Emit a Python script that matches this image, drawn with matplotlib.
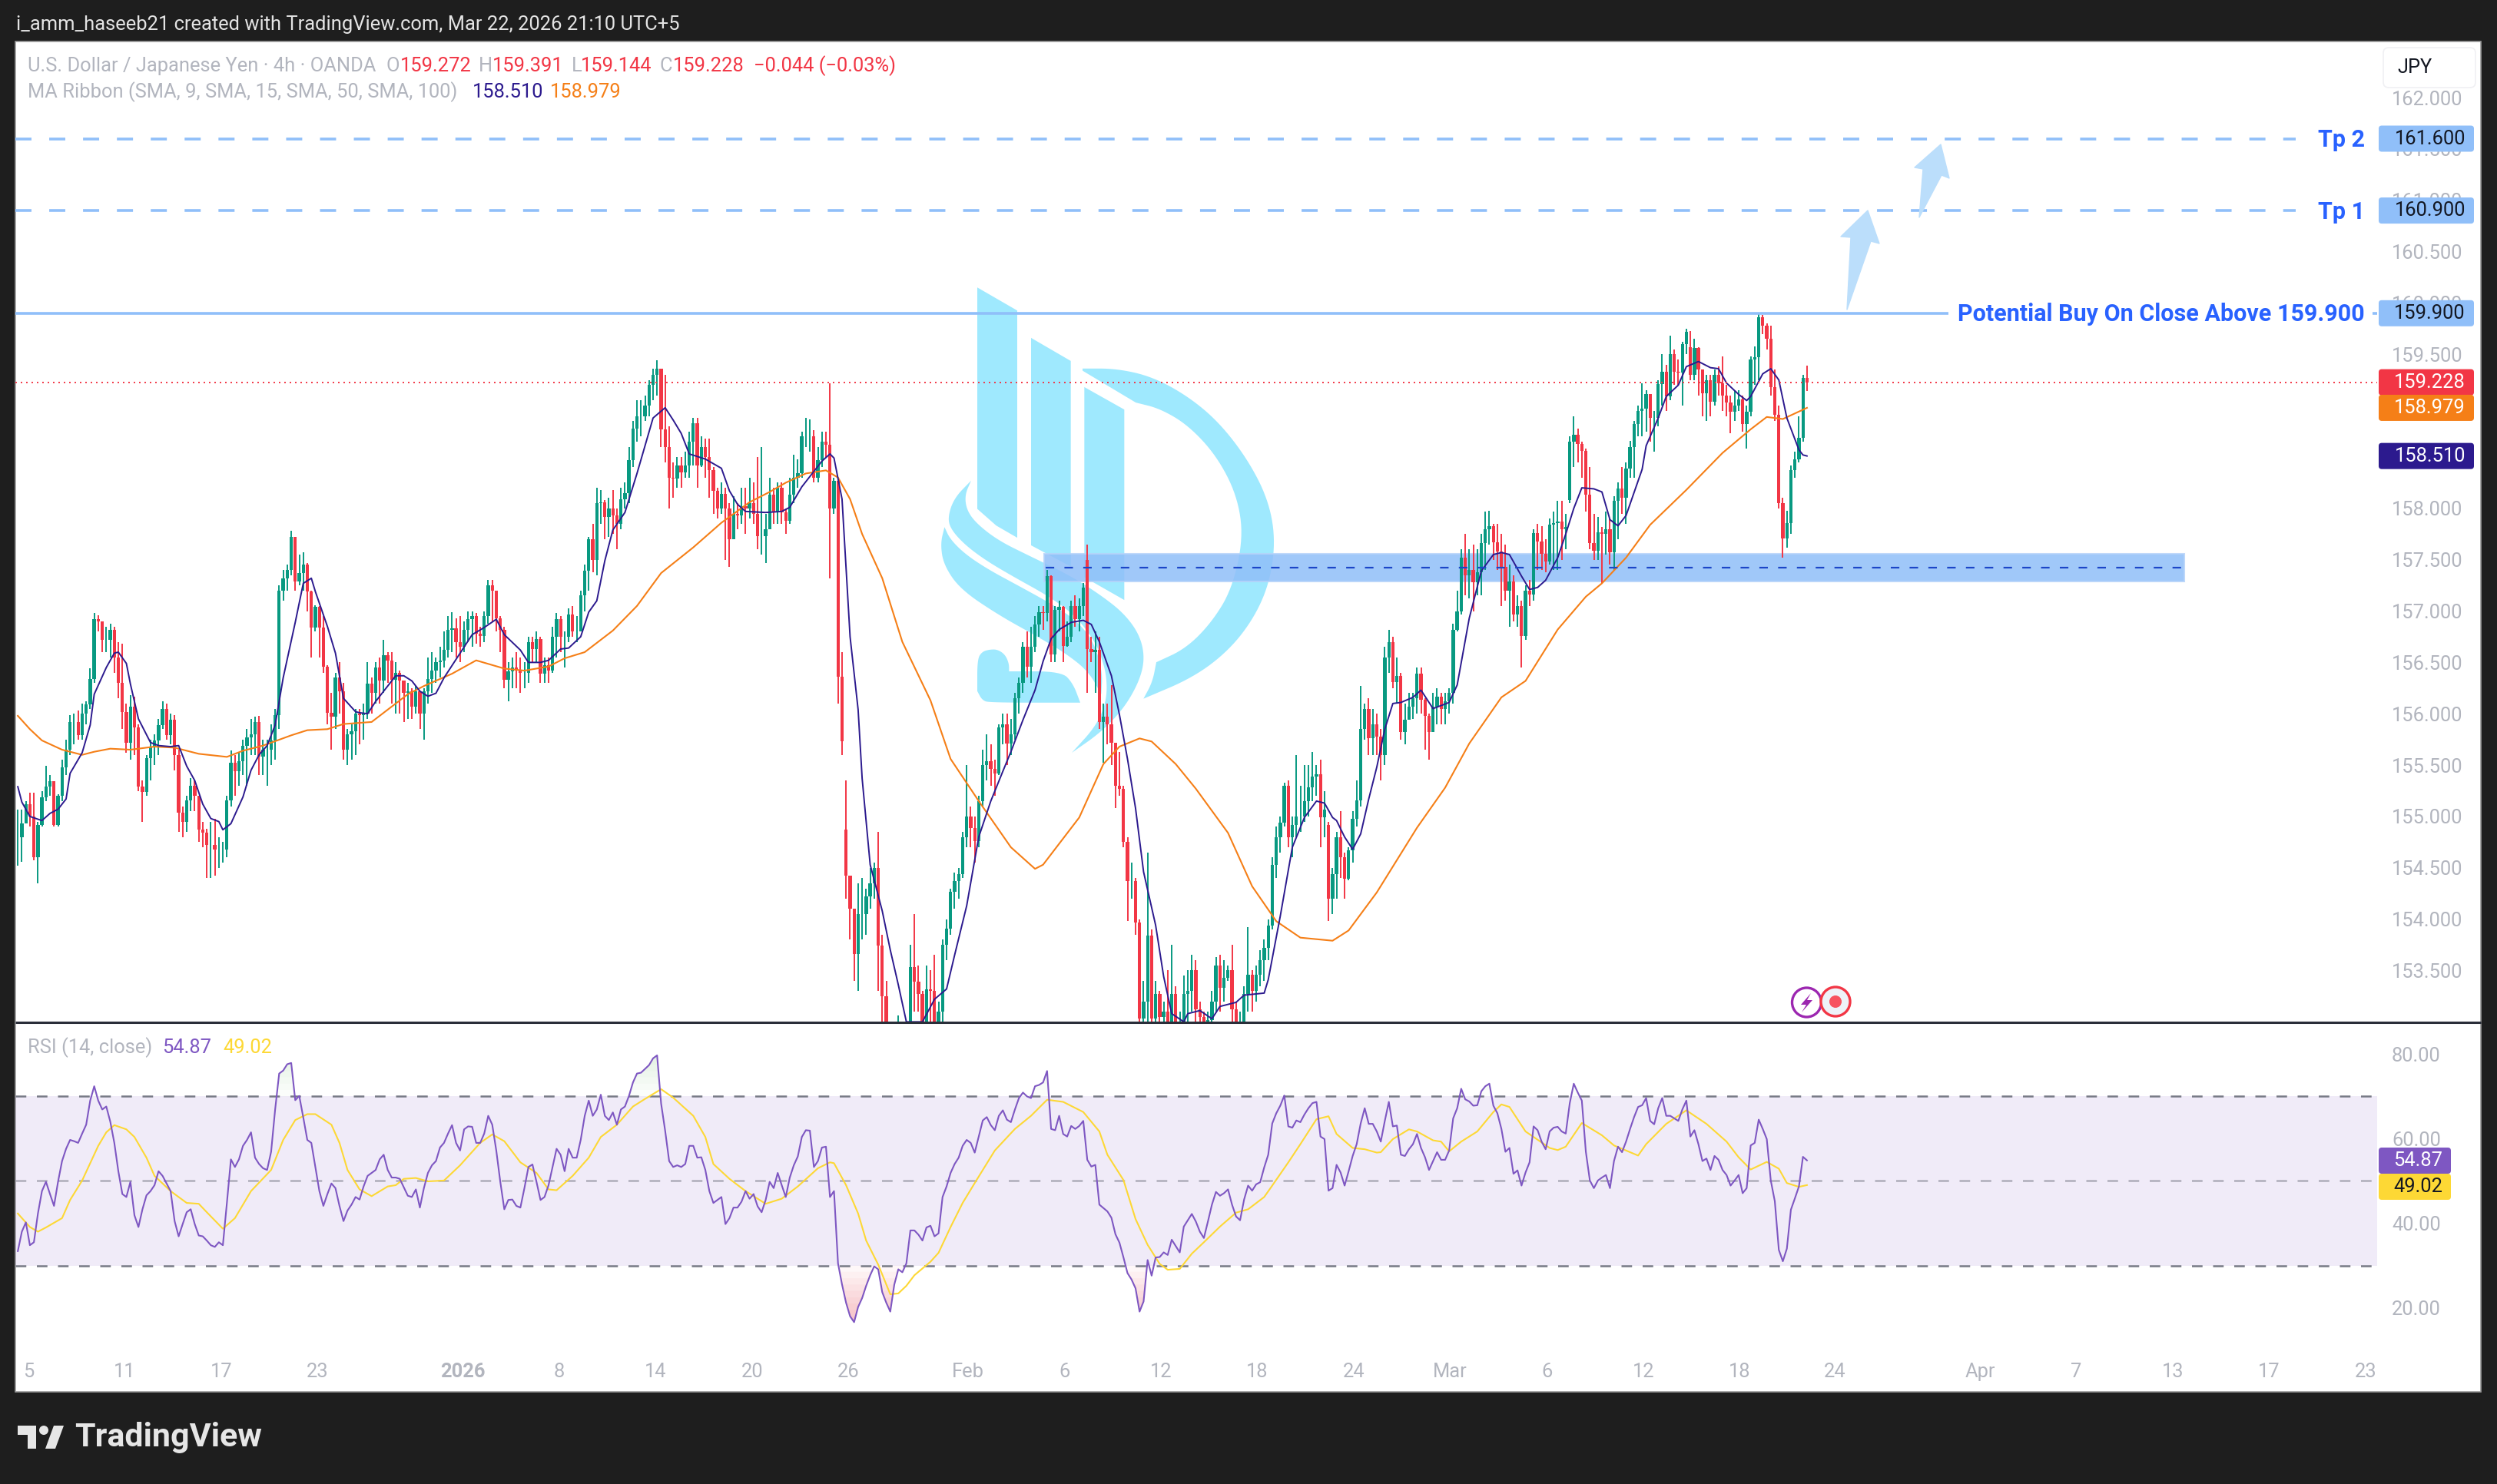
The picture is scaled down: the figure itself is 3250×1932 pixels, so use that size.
"""USD/JPY 4h chart with MA ribbon and RSI pane"""

import matplotlib
matplotlib.use("Agg")
import matplotlib.pyplot as plt
from matplotlib.patches import Circle, FancyBboxPatch, Polygon, Rectangle
import numpy as np

plt.rcParams["font.family"] = ["Roboto", "DejaVu Sans"]

# candle data, one row per ten 4h bars
closes = [
    154.80,154.93,155.12,155.00,154.60,154.92,155.19,155.29,155.34,154.92,
    155.20,155.48,155.65,155.92,155.92,155.79,156.00,156.09,156.34,156.92,
    156.90,156.72,156.72,156.82,156.55,156.30,156.02,155.72,156.07,155.87,
    155.29,155.24,155.57,155.67,155.74,155.89,156.05,155.79,155.94,155.60,
    155.04,154.95,155.16,155.30,155.20,154.87,154.84,154.72,154.72,154.68,
    154.68,154.68,155.16,155.52,155.44,155.54,155.69,155.77,155.80,155.92,
    155.58,155.65,155.65,155.74,155.99,157.20,157.32,157.40,157.72,157.29,
    157.37,157.45,157.19,156.84,157.04,156.84,156.46,156.01,155.97,156.35,
    156.22,155.65,155.80,155.83,156.00,155.99,156.00,156.29,156.20,156.45,
    156.32,156.57,156.52,156.33,156.40,156.32,156.20,156.22,156.07,156.22,
    156.00,156.22,156.34,156.42,156.50,156.52,156.62,156.82,156.83,156.70,
    156.65,156.82,156.92,156.95,156.78,156.76,156.95,157.25,157.20,156.93,
    156.82,156.33,156.41,156.45,156.42,156.40,156.40,156.70,156.63,156.73,
    156.39,156.47,156.42,156.75,156.92,156.75,156.75,156.97,156.80,156.80,
    157.15,157.39,157.70,157.50,158.05,158.06,157.92,158.00,157.93,157.85,
    158.09,158.15,158.47,158.78,158.90,158.90,159.00,159.20,159.30,159.36,
    158.77,158.60,158.30,158.29,158.42,158.35,158.42,158.65,158.83,158.42,
    158.60,158.50,158.37,158.17,158.00,158.14,158.00,157.70,157.95,157.93,
    158.02,158.00,158.05,157.95,157.73,157.73,157.80,158.13,157.96,158.20,
    157.96,157.88,158.13,158.30,158.34,158.70,158.70,158.70,158.30,158.47,
    158.65,158.62,158.00,158.27,156.36,155.73,154.42,154.10,153.66,154.05,
    154.05,154.22,154.35,154.50,153.74,153.25,153.00,152.90,152.85,152.90,
    152.85,152.90,153.53,153.39,153.27,153.00,153.32,153.30,153.00,153.10,
    153.75,153.91,154.27,154.37,154.44,154.80,155.00,154.89,154.76,155.15,
    155.50,155.54,155.46,155.42,155.87,155.90,155.71,155.80,156.15,156.30,
    156.65,156.46,156.65,156.87,156.99,156.98,157.34,156.58,157.01,157.04,
    156.66,156.75,157.05,156.92,157.05,157.23,156.63,156.60,156.62,155.92,
    155.97,155.90,155.72,155.30,155.27,154.75,154.37,154.37,153.97,153.03,
    153.20,153.84,153.03,153.27,153.05,153.10,153.00,153.27,153.00,153.00,
    153.27,153.30,153.50,153.12,153.05,153.00,153.02,153.20,153.55,153.33,
    153.43,153.50,153.12,153.00,153.00,153.27,153.46,153.30,153.46,153.60,
    153.72,153.94,154.53,154.80,154.94,155.30,154.80,154.92,155.00,155.00,
    155.15,155.28,155.39,155.41,154.99,155.07,154.20,154.44,154.80,154.60,
    154.39,154.67,154.98,155.16,155.85,156.05,155.76,155.90,155.78,155.60,
    156.55,156.70,156.31,156.37,155.82,155.94,156.07,156.15,156.39,156.14,
    155.98,155.82,156.07,156.17,156.05,156.12,156.20,156.82,157.00,157.52,
    157.35,157.40,157.28,157.38,157.66,157.80,157.83,157.67,157.58,157.43,
    157.20,157.29,156.97,157.05,156.76,157.20,157.16,157.76,157.68,157.56,
    157.48,157.84,157.86,157.87,157.80,157.82,158.65,158.72,158.63,158.56,
    158.13,157.66,157.59,157.77,157.75,157.80,157.57,158.07,158.19,158.10,
    158.39,158.60,158.82,158.95,158.97,159.11,158.88,158.88,159.21,159.33,
    159.09,159.50,159.33,159.32,159.60,159.72,159.30,159.56,159.35,159.12,
    159.25,159.04,159.30,159.22,159.10,159.03,158.94,159.00,159.06,158.82,
    158.94,159.45,159.47,159.86,159.78,159.65,159.18,158.91,158.05,157.71,
    157.86,158.37,158.48,158.69,159.27,159.228,
]
highs = [
    155.07,155.07,155.15,155.23,155.23,154.95,155.25,155.49,155.40,155.22,
    155.22,155.55,155.75,155.99,156.00,156.03,156.10,156.12,156.44,156.98,
    156.96,156.90,156.85,156.88,156.85,156.70,156.68,156.10,156.18,156.17,
    155.90,155.35,155.60,155.75,155.80,155.95,156.12,156.10,156.00,155.99,
    155.65,155.10,155.20,155.37,155.35,155.20,154.95,154.88,154.95,154.98,
    154.80,154.75,155.20,155.64,155.60,155.62,155.75,155.85,155.95,155.97,
    155.98,155.75,155.75,155.90,156.05,157.25,157.40,157.45,157.78,157.63,
    157.55,157.57,157.47,157.20,157.06,157.05,156.95,156.47,156.20,156.40,
    156.50,156.30,155.85,155.90,156.05,156.05,156.10,156.50,156.35,156.50,
    156.55,156.72,156.60,156.60,156.50,156.42,156.30,156.30,156.25,156.27,
    156.18,156.25,156.55,156.60,156.55,156.65,156.80,156.95,156.99,156.93,
    156.95,156.90,157.00,157.00,156.98,156.85,157.00,157.30,157.30,157.18,
    156.95,156.85,156.50,156.55,156.60,156.55,156.50,156.75,156.75,156.80,
    156.75,156.55,156.55,156.85,156.98,156.95,156.80,157.03,157.05,156.95,
    157.20,157.45,157.72,157.85,158.20,158.18,158.08,158.10,158.18,158.00,
    158.20,158.25,158.60,158.85,159.05,159.05,159.10,159.25,159.36,159.44,
    159.36,159.30,158.80,158.45,158.50,158.50,158.55,158.75,158.88,158.88,
    158.70,158.68,158.68,158.40,158.20,158.25,158.20,158.05,158.12,158.05,
    158.20,158.20,158.30,158.25,158.50,158.60,157.95,158.30,158.20,158.25,
    158.25,158.00,158.30,158.52,158.48,158.75,158.88,158.87,158.76,158.60,
    158.75,158.75,159.22,158.30,158.30,156.60,155.35,154.42,154.00,154.35,
    154.40,154.30,154.50,154.55,154.85,153.85,153.40,152.95,152.90,153.06,
    152.95,152.95,153.75,154.05,153.55,153.30,153.55,153.50,153.65,153.20,
    153.80,154.00,154.30,154.45,154.50,154.85,155.50,155.10,155.00,155.20,
    155.65,155.80,155.70,155.55,155.90,156.00,156.00,155.95,156.20,156.35,
    156.70,156.80,156.85,156.95,157.05,157.05,157.40,157.35,157.05,157.10,
    157.05,156.90,157.10,157.15,157.12,157.27,157.65,156.75,156.80,156.75,
    156.10,156.10,156.28,155.70,155.63,155.30,154.80,154.55,154.40,154.00,
    153.40,154.65,153.90,153.40,153.30,153.20,153.50,153.75,153.35,153.10,
    153.45,153.50,153.65,153.60,153.20,153.10,153.10,153.30,153.63,153.65,
    153.60,153.55,153.75,153.20,153.10,153.35,153.92,153.50,153.55,153.70,
    153.80,154.00,154.60,154.90,155.00,155.33,155.35,155.00,155.60,155.30,
    155.50,155.50,155.63,155.50,155.55,155.25,154.95,154.50,154.85,155.05,
    154.65,154.70,155.05,155.35,156.27,156.10,156.15,156.05,156.00,155.85,
    156.65,156.82,156.75,156.55,156.40,156.10,156.20,156.20,156.45,156.45,
    156.15,156.00,156.20,156.25,156.20,156.20,156.25,156.88,157.20,157.60,
    157.75,157.60,157.65,157.60,157.75,157.97,157.98,157.85,157.85,157.75,
    157.65,157.45,157.35,157.15,157.10,157.25,157.30,157.80,157.85,157.83,
    157.70,157.90,157.97,158.07,158.07,157.95,158.70,158.90,158.78,158.65,
    158.58,158.40,157.95,157.92,157.82,157.97,157.90,158.12,158.25,158.40,
    158.45,158.66,158.85,159.00,159.22,159.15,159.10,158.95,159.25,159.50,
    159.40,159.68,159.55,159.45,159.62,159.75,159.73,159.65,159.57,159.35,
    159.30,159.30,159.35,159.38,159.48,159.20,159.10,159.15,159.15,159.10,
    159.00,159.48,159.58,159.90,159.88,159.80,159.78,159.35,159.00,158.10,
    157.98,158.42,158.55,158.90,159.30,159.391,
]
lows = [
    154.52,154.56,154.95,154.90,154.57,154.35,154.90,155.15,155.20,154.90,
    154.90,155.15,155.40,155.60,155.70,155.75,155.75,155.90,156.05,156.30,
    156.80,156.60,156.60,156.55,156.40,156.15,155.85,155.62,155.55,155.60,
    155.25,154.95,155.20,155.35,155.50,155.60,155.85,155.75,155.70,155.45,
    154.85,154.80,154.85,155.05,155.05,154.75,154.70,154.40,154.40,154.42,
    154.50,154.55,154.60,155.10,155.20,155.30,155.40,155.30,155.60,155.60,
    155.40,155.40,155.30,155.50,155.55,155.85,157.10,157.20,157.35,157.20,
    157.25,157.20,157.00,156.55,156.80,156.55,156.40,155.90,155.65,155.85,
    156.00,155.55,155.50,155.55,155.60,155.70,155.75,155.95,156.00,156.10,
    156.10,156.20,156.30,156.10,156.00,156.00,155.92,155.95,155.95,156.00,
    155.85,155.75,156.10,156.20,156.30,156.35,156.45,156.55,156.60,156.55,
    156.50,156.60,156.70,156.65,156.68,156.65,156.70,156.88,156.90,156.80,
    156.60,156.25,156.12,156.25,156.25,156.20,156.25,156.30,156.50,156.50,
    156.30,156.30,156.30,156.40,156.55,156.60,156.45,156.70,156.75,156.70,
    156.80,157.00,157.20,157.38,157.35,157.85,157.70,157.72,157.75,157.60,
    157.80,158.00,158.05,158.40,158.65,158.70,158.85,158.90,159.05,159.10,
    158.60,158.45,158.00,158.10,158.20,158.20,158.30,158.30,158.42,158.20,
    158.40,158.30,158.10,157.95,157.90,157.95,157.50,157.43,157.72,157.80,
    157.85,157.75,157.90,157.85,157.60,157.55,157.47,157.85,157.85,157.85,
    157.85,157.75,157.85,158.05,158.20,158.30,158.60,158.55,158.25,158.25,
    158.40,158.50,157.32,157.95,156.10,155.60,154.20,153.80,153.40,153.30,
    153.80,153.85,154.10,154.20,153.30,152.90,152.90,152.80,152.80,152.80,
    152.80,152.80,152.90,153.10,153.10,152.90,152.90,153.00,152.90,152.90,
    152.90,153.60,153.85,154.10,154.20,154.40,154.70,154.70,154.55,154.70,
    155.10,155.35,155.30,155.20,155.40,155.70,155.50,155.60,155.75,156.00,
    156.20,156.35,156.30,156.60,156.75,156.82,156.90,156.50,156.50,156.80,
    156.50,156.65,156.70,156.85,156.80,156.95,156.20,156.50,156.20,155.85,
    155.52,155.70,155.50,155.08,155.20,154.70,153.98,154.20,153.85,152.90,
    152.90,152.90,152.90,152.90,152.90,152.90,152.90,152.90,152.90,152.90,
    152.90,153.00,153.10,152.95,152.90,152.90,152.90,152.90,153.10,153.10,
    153.20,153.40,153.00,152.90,152.90,152.90,153.10,153.10,153.20,153.35,
    153.40,153.60,153.90,154.40,154.65,154.90,154.70,154.60,154.80,154.85,
    154.95,155.00,155.15,155.20,154.70,154.80,153.98,154.05,154.20,154.40,
    154.20,154.38,154.55,154.90,155.10,155.75,155.60,155.60,155.60,155.35,
    155.50,156.40,156.25,156.10,155.75,155.70,155.95,155.95,156.00,156.00,
    155.65,155.55,155.85,155.90,155.90,155.90,156.00,156.10,156.80,156.97,
    157.15,157.12,157.00,157.15,157.15,157.40,157.65,157.50,157.40,157.05,
    157.10,156.85,156.90,156.85,156.45,156.72,157.05,157.10,157.40,157.40,
    157.38,157.45,157.40,157.40,157.50,157.60,158.05,158.40,158.45,158.30,
    157.97,157.60,157.50,157.50,157.27,157.55,157.45,157.40,157.70,157.95,
    157.85,158.30,158.30,158.70,158.70,158.75,158.65,158.55,158.80,159.00,
    158.95,159.05,159.20,159.20,159.00,159.50,159.25,159.25,159.10,158.90,
    158.85,158.90,159.00,159.10,158.95,158.90,158.73,158.85,158.95,158.75,
    158.58,158.90,159.20,159.25,159.70,159.55,159.10,158.85,158.00,157.52,
    157.62,157.75,158.30,158.45,158.65,159.144,
]
# bars whose open sits away from the previous close
gap_bars = [206, 266, 326, 386, 416, 445]
gap_opens = [154.87, 157.50, 154.92, 158.08, 159.57, 159.272]

# fast moving average
fast_bars = [0,1,3,6,8,10,12,13,16,18,19,22,24,25,27,28,30,33,35,38,40,42,44,46,48,50,51,53,56,58,60,62,64,66,69,71,73,74,77,79,81,84,85,87,89,92,94,96,98,100,102,104,106,110,113,116,119,121,125,127,130,132,135,137,140,142,144,146,148,151,154,156,158,161,163,165,167,171,175,177,179,181,186,190,192,195,198,200,202,203,205,206,207,209,210,212,215,217,219,221,225,228,231,233,236,239,242,245,247,250,253,255,257,259,262,265,267,269,272,274,276,278,280,283,285,287,290,291,294,297,299,303,305,310,311,314,317,320,323,325,327,328,330,332,334,336,338,340,342,344,347,349,352,354,356,358,361,364,367,369,371,374,376,378,380,383,385,387,389,392,394,396,398,400,404,405,408,410,413,415,418,421,423,425,428,430,431,434,436,438,440,443,444,445]
fast_vals = [155.29,155.14,155.00,154.96,155.03,155.07,155.17,155.42,155.62,155.89,156.19,156.45,156.59,156.60,156.49,156.29,155.95,155.72,155.69,155.68,155.69,155.49,155.35,155.12,154.98,154.95,154.87,154.93,155.19,155.45,155.60,155.69,155.89,156.35,156.89,157.27,157.32,157.19,156.85,156.59,156.15,156.02,156.01,156.00,156.12,156.27,156.37,156.37,156.32,156.22,156.17,156.20,156.35,156.59,156.77,156.84,156.92,156.77,156.62,156.50,156.50,156.52,156.63,156.64,156.75,156.99,157.10,157.49,157.79,157.96,158.34,158.61,158.88,158.98,158.86,158.73,158.53,158.48,158.39,158.17,158.04,157.97,157.96,157.97,158.01,158.21,158.36,158.46,158.53,158.49,158.09,157.42,156.75,156.04,155.37,154.53,154.08,153.70,153.36,153.00,153.00,153.22,153.32,153.65,154.13,154.80,155.15,155.44,155.63,155.94,156.23,156.51,156.73,156.82,156.89,156.91,156.87,156.70,156.37,155.99,155.56,155.08,154.46,153.94,153.44,153.08,153.00,153.08,153.11,153.03,153.15,153.19,153.26,153.28,153.41,154.03,154.70,154.99,155.15,155.13,154.99,154.96,154.80,154.68,154.83,155.17,155.48,155.85,156.10,156.11,156.16,156.23,156.05,156.08,156.11,156.28,156.93,157.39,157.55,157.57,157.55,157.34,157.21,157.23,157.30,157.52,157.75,158.00,158.20,158.19,158.16,157.89,157.83,157.93,158.38,158.61,158.88,159.09,159.20,159.38,159.43,159.37,159.36,159.22,159.11,159.05,159.09,159.31,159.36,159.25,158.88,158.57,158.52,158.51]

# slow moving average
slow_bars = [0,3,6,11,16,19,23,28,34,39,45,52,56,61,68,72,77,81,88,92,97,101,108,114,121,126,132,136,141,148,154,160,168,175,182,187,191,196,201,204,207,210,215,220,227,232,239,247,253,255,264,270,274,279,282,288,293,301,307,313,319,327,331,338,348,355,361,369,375,383,390,394,400,406,415,424,431,435,439,445]
slow_vals = [155.98,155.85,155.74,155.65,155.60,155.63,155.66,155.65,155.68,155.67,155.61,155.58,155.64,155.69,155.79,155.84,155.85,155.90,155.92,156.04,156.19,156.27,156.39,156.52,156.44,156.42,156.46,156.54,156.60,156.81,157.05,157.37,157.62,157.86,158.06,158.16,158.25,158.34,158.37,158.30,158.09,157.75,157.32,156.70,156.13,155.56,155.15,154.70,154.49,154.53,154.99,155.51,155.68,155.76,155.73,155.51,155.27,154.84,154.32,153.98,153.82,153.79,153.89,154.26,154.89,155.28,155.71,156.16,156.32,156.82,157.14,157.27,157.52,157.84,158.18,158.54,158.77,158.89,158.87,158.979]

# RSI, one value per bar
rsi_vals = [
    33.4,38,40.2,34.8,35.5,42.3,47.6,49.8,46.9,44.1,
    49.8,54.7,57.6,59.7,59.4,59,61.2,63.3,69,72.4,
    69,66.9,67.6,64,59,52.3,46.9,46.2,49.8,41.9,
    39.1,43.3,46.6,47.6,49,52.3,51.2,49.4,47.6,40.5,
    36.9,39.8,42.6,43.3,39.8,37.1,36.9,35.9,34.8,34.4,
    35.5,34.8,44.8,55.1,53.3,55.1,58.3,59.7,61.5,55.5,
    54,53,52.6,56.9,66.9,75.4,76.1,77.6,77.9,69.1,
    70.1,65,59.7,59,53.3,47.6,44.1,46.9,49.4,48.3,
    44.1,40.5,43,44.4,46.2,45.6,48.7,51.2,51.9,52.6,
    55.1,56.2,52.6,50.8,50.8,50.5,48.5,46.5,46.2,48,
    43.7,48.3,51.9,53.7,54.7,57.9,59,61.2,63.2,59,
    57.2,62.2,62.9,62.8,59,59,61.2,65.4,63.3,57.2,
    49.8,43.3,45.5,45.6,44.1,43.7,48.3,53.3,53.9,49.8,
    45.5,46.2,49,53.3,57.6,56.2,52.3,57.6,55.5,55.5,
    59.7,65.4,69,65.4,66.9,70.4,65.4,64.4,66.2,63.3,
    66.9,67.6,70.1,73.3,75.4,75.6,76.5,77.4,79,79.7,
    68.3,61.9,54.7,53.3,53.7,53.3,54,58.3,58.3,55.5,
    55.6,52.6,47.6,44.8,45.5,46.2,39.8,41.2,43.7,43.7,
    45.1,47.6,45.8,46.9,44,42.6,45.5,49.8,48.3,51.9,
    49,46.2,50.8,53.7,55.8,60.4,62,61.9,53.3,54.7,
    57.9,58.1,46.2,47.6,30.5,25.5,21.2,18,16.6,20.2,
    22.3,25.2,27.7,29.8,29.1,23.7,21.2,19.1,25.5,29.1,
    28.4,30.5,38.3,38.3,37.3,35.9,39,39.4,36.9,37.6,
    46.2,48.7,51.9,54,55.5,58.3,59.7,59,56.7,60.5,
    64.3,65.1,63.2,62,65.4,66.7,64.5,63.9,66.9,69.6,
    70.9,70,69.6,72.4,72.7,73.3,76,62.3,62,65.4,
    61.1,60.5,63,62.3,63,64.2,55,53.4,53.8,44.4,
    43.6,42.8,41.3,37.4,35.4,31.9,28.2,26.7,24.6,19.1,
    21.5,31.3,27.6,31.9,32,33.1,32.5,36.1,34.6,33.1,
    39.2,40.7,42.2,40.4,38,36.5,40.4,44.4,47.4,46.5,
    47.1,48,44.4,41.6,40.7,45.6,48.9,47.7,49.2,49.7,
    53.2,56.2,63.6,66,67.8,70.2,62.9,62.6,64.3,63.9,
    65.7,67.2,68.4,68.7,60.5,59.9,47.7,48.3,53.8,52,
    48.9,52.3,55.9,58.7,63.6,67.2,63.5,63.5,61.7,59.3,
    64.2,68.7,62.9,63.1,56.2,55.9,57.5,58.7,61.1,57.8,
    55.6,52.6,54.7,56.8,55,55,57.2,64.8,67.2,71.8,
    69.3,68.8,67.8,67.9,71.2,72.4,73,67.8,66,62.3,
    56.9,57.8,51.7,52.5,48.9,52,54.4,62.9,62,59.3,
    57.5,61.7,62.6,62.8,61.7,61.2,68.4,73,70.9,69,
    56.9,50.1,48.3,50.1,50.8,51.4,48.3,54.7,58.1,56.8,
    59.3,62.3,65.1,67.5,67.9,69.6,64.2,63.4,67.2,69.6,
    65.4,65.4,64.8,64.2,66.9,69,60.5,62,58.7,54.7,
    55.3,52.6,55.9,55,52.6,51.4,48.9,50.1,51.4,47.1,
    48.3,58.4,59,64.5,62.3,59.9,50.1,45.2,33.7,31,
    34,43.2,45.9,48.7,55.7,54.87,
]

# RSI moving average
rsi_ma_bars = [0,3,5,7,11,13,16,20,22,24,27,29,32,34,38,42,45,47,51,54,58,63,66,69,72,74,78,80,82,85,88,92,94,96,99,102,106,110,115,118,121,125,129,132,134,138,142,145,149,153,156,160,163,168,171,173,177,181,186,190,194,199,202,203,206,209,211,214,217,219,221,223,227,229,232,235,238,243,248,252,256,260,265,269,271,275,278,281,284,286,289,292,295,299,303,306,310,312,316,319,323,326,328,332,335,338,339,342,346,348,352,354,356,359,363,367,369,371,375,381,383,385,389,394,397,403,405,410,415,420,425,428,431,435,438,440,443,445]
rsi_ma_vals = [42.3,39.1,38,39,41.2,45.5,50.1,58.3,61.5,63.2,62.2,60.4,55.5,51.2,47.6,44.8,44.6,42.6,38.7,41.2,47.6,52.6,59.7,64.4,65.8,65.8,63.3,59,52.6,48,46.4,48.7,49,50.5,50.7,49.9,50.1,53.7,59,61,59.4,54.4,51.9,48,47.8,51.2,55.5,60.4,63.3,67.6,69.4,71.7,69.7,65.4,60.4,54,50.5,47.6,44.6,45.8,48.7,53,54.4,54.2,49,42.3,35.9,30.2,23.2,23.4,25.2,27.7,30.9,33,39.1,44.8,49.5,57.2,62.3,65.4,69.2,68.7,66.3,61.7,56.2,50.2,41,34.9,30.4,29,29.2,32.8,35.5,39.2,42.5,43.3,46.2,48.9,54.4,58.7,64.6,65.3,61.1,57.8,57.5,56.7,56.8,59.9,62.2,61.7,59.6,59.3,57,59.3,61.7,66.3,68.1,67.5,61.7,57.8,57.3,58.1,63.7,60.8,58.4,56,58.7,63.5,66.7,63.5,59.3,55.6,52.7,54.5,52.9,49.5,48.6,49.02]

# axis labels
date_ticks = [2.6,26.6,50.6,74.6,110.6,134.6,158.6,182.6,206.6,236.3,260.3,284.3,308.3,332.3,356.3,380.3,404.3,428.3,452.0,488.0,512.0,536.0,560.0,584.0]
date_labels = ["5","11","17","23","2026","8","14","20","26","Feb","6","12","18","24","Mar","6","12","18","24","Apr","7","13","17","23"]
price_ticks = [153.5,154.0,154.5,155.0,155.5,156.0,156.5,157.0,157.5,158.0,159.5,160.0,160.5,161.0,161.5,162.0]
rsi_ticks = [20, 40, 60, 80]

# price levels drawn on the chart
tp_levels = [161.6, 160.9]
buy_level = 159.9
last_price = 159.228
zone_low, zone_high, zone_mid = 157.29, 157.56, 157.42

GREEN = "#089981"
RED = "#F23645"
GRAY = "#B2B5BE"
LINE_BLUE = "#90BFF9"
TEXT_BLUE = "#2962FF"
INDIGO = "#2C1A8E"
ORANGE = "#F57F17"
PURPLE = "#7E57C2"
YELLOW = "#FDD835"
DARK = "#1E1E1E"
LOGO = "#9FE9FE"

W, H = 3250, 1932
PLOT_L, PLOT_R = 20, 3094
MAIN_T, MAIN_B = 54, 1331
RSI_B = 1812
FS = 18.4


def bar_at(px):
    """bar index under a pixel column"""
    return (px - 23.2) / 5.233


def price_y(price):
    return 407.8 + (159.9 - price) * 133.7


def price_y_inv(y):
    return 159.9 - (y - 407.8) / 133.7


def rsi_y_inv(y):
    return 40 + (1592.5 - y) / 5.505


def pane(fig, top, bottom):
    ax = fig.add_axes([PLOT_L / W, 1 - bottom / H, (PLOT_R - PLOT_L) / W, (bottom - top) / H])
    ax.set_facecolor("none")
    for spine in ax.spines.values():
        spine.set_visible(False)
    ax.set_xlim(bar_at(PLOT_L), bar_at(PLOT_R))
    return ax


def smooth(chain, rounds=3):
    """Chaikin corner cutting, endpoints stay put"""
    pts = np.array(chain, dtype=float)
    for _ in range(rounds):
        q = 0.75 * pts[:-1] + 0.25 * pts[1:]
        r = 0.25 * pts[:-1] + 0.75 * pts[1:]
        mid = np.column_stack([q, r]).reshape(-1, 2)
        pts = np.vstack([pts[0], mid, pts[-1]])
    return pts


def logo_shape(*chains, curved=True):
    pts = np.vstack([smooth(c) if curved else np.array(c, dtype=float) for c in chains])
    return np.column_stack([1200 + pts[:, 0] / 3, 360 + pts[:, 1] / 2.529])


def draw_backdrop(fig):
    bg = fig.add_axes([0, 0, 1, 1], zorder=0)
    bg.set_xlim(0, W)
    bg.set_ylim(H, 0)
    bg.axis("off")
    bg.add_patch(Rectangle((20, 54), 3209, 1758, fc="white", ec="#9a9a9a", lw=1.2))

    # watermark logo
    shapes = [
        logo_shape([(216,36),(372,112),(372,860),(290,820),(216,765)], curved=False),
        logo_shape([(426,202),(581,278),(581,955),(426,885)], curved=False),
        logo_shape([(634,364),(790,438),(790,1065),(634,990)], curved=False),
        logo_shape(
            [(192,672),(167,720),(175,770),(215,815),(300,870),(420,920),(580,985),(700,1050),(790,1110),
             (850,1180),(870,1255),(850,1330),(790,1420),(700,1500),(585,1568)],
            [(585,1568),(680,1480),(720,1400),(722,1320),(700,1250),(670,1195),(600,1118),(500,1055),
             (350,985),(250,935),(170,885),(115,835),(100,795),(125,730),(192,672)],
        ),
        logo_shape(
            [(88,825),(110,865),(170,915),(260,965),(370,1015),(500,1075),(600,1130),(670,1200),(705,1300),(700,1375)],
            [(700,1375),(650,1300),(560,1240),(450,1185),(300,1115),(150,1030),(85,950),(72,880),(88,825)],
        ),
        logo_shape(
            [(340,1300),(545,1300),(590,1340),(618,1403)],
            [(618,1403),(265,1403),(235,1395),(216,1365)],
            [(216,1365),(216,1260),(235,1235),(265,1228),(295,1228),(325,1245),(340,1275),(340,1300)],
        ),
        logo_shape(
            [(627,303),(760,303),(900,330),(1040,395),(1160,480),(1270,600),(1350,730),(1380,860),(1360,1000),
             (1300,1120),(1200,1230),(1060,1320),(865,1390)],
            [(865,1390),(900,1335),(915,1270)],
            [(915,1270),(1030,1225),(1130,1140),(1210,1030),(1255,860),(1230,720),(1150,590),(1040,490),(930,435),(835,415)],
            [(835,415),(627,310)],
        ),
    ]
    for shape in shapes:
        bg.add_patch(Polygon(shape, closed=True, fc=LOGO, ec="none"))


def draw_price_pane(fig):
    ax = pane(fig, MAIN_T, MAIN_B)
    ax.set_zorder(1)
    ax.set_ylim(price_y_inv(MAIN_B), price_y_inv(MAIN_T))

    bars = np.arange(len(closes))
    c = np.array(closes)
    o = np.r_[c[0], c[:-1]]
    o[gap_bars] = gap_opens
    colors = np.where(c >= o, GREEN, RED)

    ax.add_patch(Rectangle((bar_at(1358.7), zone_low), bar_at(2843) - bar_at(1358.7), zone_high - zone_low,
                           fc="#90BFF9", ec="#B5D3FA", alpha=0.85, lw=1.5, zorder=1))
    ax.vlines(bars, lows, highs, colors=colors, lw=1.4, zorder=3)
    ax.bar(bars, np.abs(c - o), bottom=np.minimum(c, o), width=0.82, color=colors, antialiased=False, zorder=3)
    ax.plot(slow_bars, slow_vals, color=ORANGE, lw=1.5, zorder=4)
    ax.plot(fast_bars, fast_vals, color=INDIGO, lw=1.4, zorder=4)

    for level in tp_levels:
        ax.hlines(level, bar_at(PLOT_L), bar_at(2988), color=LINE_BLUE, lw=2.6, linestyles=(0, (5.8, 6.4)), zorder=5)
    ax.hlines(buy_level, bar_at(PLOT_L), bar_at(2536), color=LINE_BLUE, lw=2.6, zorder=5)
    ax.hlines(buy_level, bar_at(3088), bar_at(PLOT_R), color=LINE_BLUE, lw=2.6, zorder=5)
    ax.hlines(last_price, bar_at(PLOT_L), bar_at(PLOT_R), color=RED, lw=1.4, linestyles=(0, (1, 2.6)), zorder=5)
    ax.hlines(zone_mid, bar_at(1361), bar_at(2840), color="#1C46C8", lw=1.6, linestyles=(0, (5, 6)), zorder=5)

    ax.set_xticks([])
    ax.yaxis.tick_right()
    ax.set_yticks(price_ticks)
    ax.set_yticklabels([f"{t:.3f}" for t in price_ticks], color=GRAY, fontsize=FS)
    ax.tick_params(axis="y", length=0, pad=13.7)
    return ax


def draw_rsi_pane(fig):
    ax = pane(fig, MAIN_B, RSI_B)
    ax.set_zorder(1)
    ax.set_ylim(rsi_y_inv(RSI_B), rsi_y_inv(MAIN_B))

    bars = np.arange(len(rsi_vals))
    rsi = np.array(rsi_vals)

    ax.axhspan(30, 70, color=PURPLE, alpha=0.115, lw=0)
    ax.axhline(70, color="#787B86", lw=1.8, linestyle=(0, (5.5, 5.5)))
    ax.axhline(30, color="#787B86", lw=1.8, linestyle=(0, (5.5, 5.5)))
    ax.axhline(50, color="#787B86", lw=1.8, alpha=0.55, linestyle=(0, (5.5, 5.5)))

    # overbought and oversold fills get stronger further out
    for level in np.arange(70, 80, 1.5):
        ax.fill_between(bars, level, rsi, where=rsi > level, interpolate=True, color="#4CAF50", alpha=0.02, lw=0)
    for level in np.arange(30, 16, -1.5):
        ax.fill_between(bars, level, rsi, where=rsi < level, interpolate=True, color=RED, alpha=0.035, lw=0)

    ax.plot(rsi_ma_bars, rsi_ma_vals, color=YELLOW, lw=1.5, zorder=4)
    ax.plot(bars, rsi, color=PURPLE, lw=1.5, zorder=5)

    ax.set_xticks(date_ticks)
    ax.set_xticklabels(date_labels, color=GRAY, fontsize=FS)
    ax.get_xticklabels()[date_labels.index("2026")].set_fontweight("bold")
    ax.tick_params(axis="x", length=0, pad=-27.5)
    ax.yaxis.tick_right()
    ax.set_yticks(rsi_ticks)
    ax.set_yticklabels([f"{t:.2f}" for t in rsi_ticks], color=GRAY, fontsize=FS)
    ax.tick_params(axis="y", length=0, pad=13.7)
    return ax


def axis_box(ov, y, text, fill, color, x1=3220):
    ov.add_patch(FancyBboxPatch((3096, y - 17), x1 - 3096, 34, boxstyle="round,pad=0,rounding_size=4", fc=fill, ec="none"))
    ov.text(x1 - 11, y, text, color=color, fontsize=FS, ha="right", va="center")


def draw_overlay(fig):
    ov = fig.add_axes([0, 0, 1, 1], zorder=5)
    ov.set_xlim(0, W)
    ov.set_ylim(H, 0)
    ov.axis("off")
    ov.patch.set_alpha(0)

    ov.plot([20, 3229], [MAIN_B, MAIN_B], color="#2A2E39", lw=2.2, solid_capstyle="butt")

    ov.text(21, 32, "i_amm_haseeb21 created with TradingView.com, Mar 22, 2026 21:10 UTC+5",
            color="#E4E4E4", fontsize=FS, va="center")

    # legend rows
    row = 86
    ov.text(36, row, "U.S. Dollar / Japanese Yen · 4h · OANDA", color=GRAY, fontsize=FS, va="center")
    for x, s, col in [(502, "O", GRAY), (521, "159.272", RED), (623, "H", GRAY), (641, "159.391", RED),
                      (744, "L", GRAY), (756, "159.144", RED), (858, "C", GRAY), (876, "159.228", RED),
                      (981, "−0.044 (−0.03%)", RED)]:
        ov.text(x, row, s, color=col, fontsize=FS, va="center")
    row = 120
    ov.text(36, row, "MA Ribbon (SMA, 9, SMA, 15, SMA, 50, SMA, 100)", color=GRAY, fontsize=FS, va="center")
    ov.text(615, row, "158.510", color=INDIGO, fontsize=FS, va="center")
    ov.text(716, row, "158.979", color=ORANGE, fontsize=FS, va="center")
    row = 1364
    ov.text(36, row, "RSI (14, close)", color=GRAY, fontsize=FS, va="center")
    ov.text(211, row, "54.87", color=PURPLE, fontsize=FS, va="center")
    ov.text(290, row, "49.02", color=YELLOW, fontsize=FS, va="center")

    # annotation text
    ov.text(3078, 182, "Tp 2", color=TEXT_BLUE, fontsize=22, fontweight="bold", ha="right", va="center")
    ov.text(3078, 276, "Tp 1", color=TEXT_BLUE, fontsize=22, fontweight="bold", ha="right", va="center")
    ov.text(3078, 409, "Potential Buy On Close Above 159.900", color=TEXT_BLUE, fontsize=22,
            fontweight="bold", ha="right", va="center")

    # hand drawn target arrows
    arrow1 = [(2431, 274), (2446, 317), (2435, 314), (2404, 403), (2409, 309), (2396, 308)]
    arrow2 = [(2526, 188), (2537, 232), (2527, 228), (2498, 283), (2503, 220), (2492, 218)]
    for arrow in (arrow1, arrow2):
        ov.add_patch(Polygon(arrow, closed=True, fc="#BBDEFB", ec="#BBDEFB", lw=1, joinstyle="round"))

    # JPY button
    ov.add_patch(FancyBboxPatch((3102, 62), 120, 52, boxstyle="round,pad=0,rounding_size=7",
                                fc="white", ec="#F0F0F3", lw=1.2))
    ov.text(3120, 88, "JPY", color="#131722", fontsize=FS, va="center")

    # value tags on the scales
    axis_box(ov, price_y(161.6), "161.600", LINE_BLUE, "#131722")
    axis_box(ov, price_y(160.9), "160.900", LINE_BLUE, "#131722")
    axis_box(ov, price_y(159.9), "159.900", LINE_BLUE, "#131722")
    axis_box(ov, price_y(159.228), "159.228", RED, "white")
    axis_box(ov, price_y(158.979), "158.979", ORANGE, "white")
    axis_box(ov, price_y(158.51), "158.510", INDIGO, "white")
    axis_box(ov, 1511, "54.87", PURPLE, "white", x1=3190)
    axis_box(ov, 1545, "49.02", YELLOW, "#131722", x1=3190)

    # session icons
    ov.add_patch(Circle((2351.5, 1305), 19, fc="white", ec="#9C27B0", lw=2.4))
    ov.add_patch(Polygon([(2357, 1293), (2344, 1308), (2351, 1308), (2345, 1318), (2359, 1302), (2352, 1302)],
                         closed=True, fc="#9C27B0", ec="none"))
    ov.add_patch(Circle((2389, 1304), 19, fc="#EEF2F8", ec=RED, lw=2.4))
    ov.add_patch(Circle((2389, 1304), 8, fc="#F7525F", ec="none"))

    # TradingView footer logo
    ov.add_patch(Polygon([(23, 1856), (47, 1856), (47, 1886), (36, 1886), (36, 1868), (23, 1868)], fc="#E6E6E6", ec="none"))
    ov.add_patch(Circle((57, 1862), 6, fc="#E6E6E6", ec="none"))
    ov.add_patch(Polygon([(83, 1856), (72, 1886), (59, 1886), (70, 1856)], fc="#E6E6E6", ec="none"))
    ov.text(97, 1871, "TradingView", color="#E6E6E6", fontsize=31, fontweight="semibold", va="center")


def main():
    fig = plt.figure(figsize=(W / 100, H / 100), dpi=100, facecolor=DARK)
    draw_backdrop(fig)
    draw_price_pane(fig)
    draw_rsi_pane(fig)
    draw_overlay(fig)
    fig.savefig("out.png", dpi=100, facecolor=DARK)


if __name__ == "__main__":
    main()
